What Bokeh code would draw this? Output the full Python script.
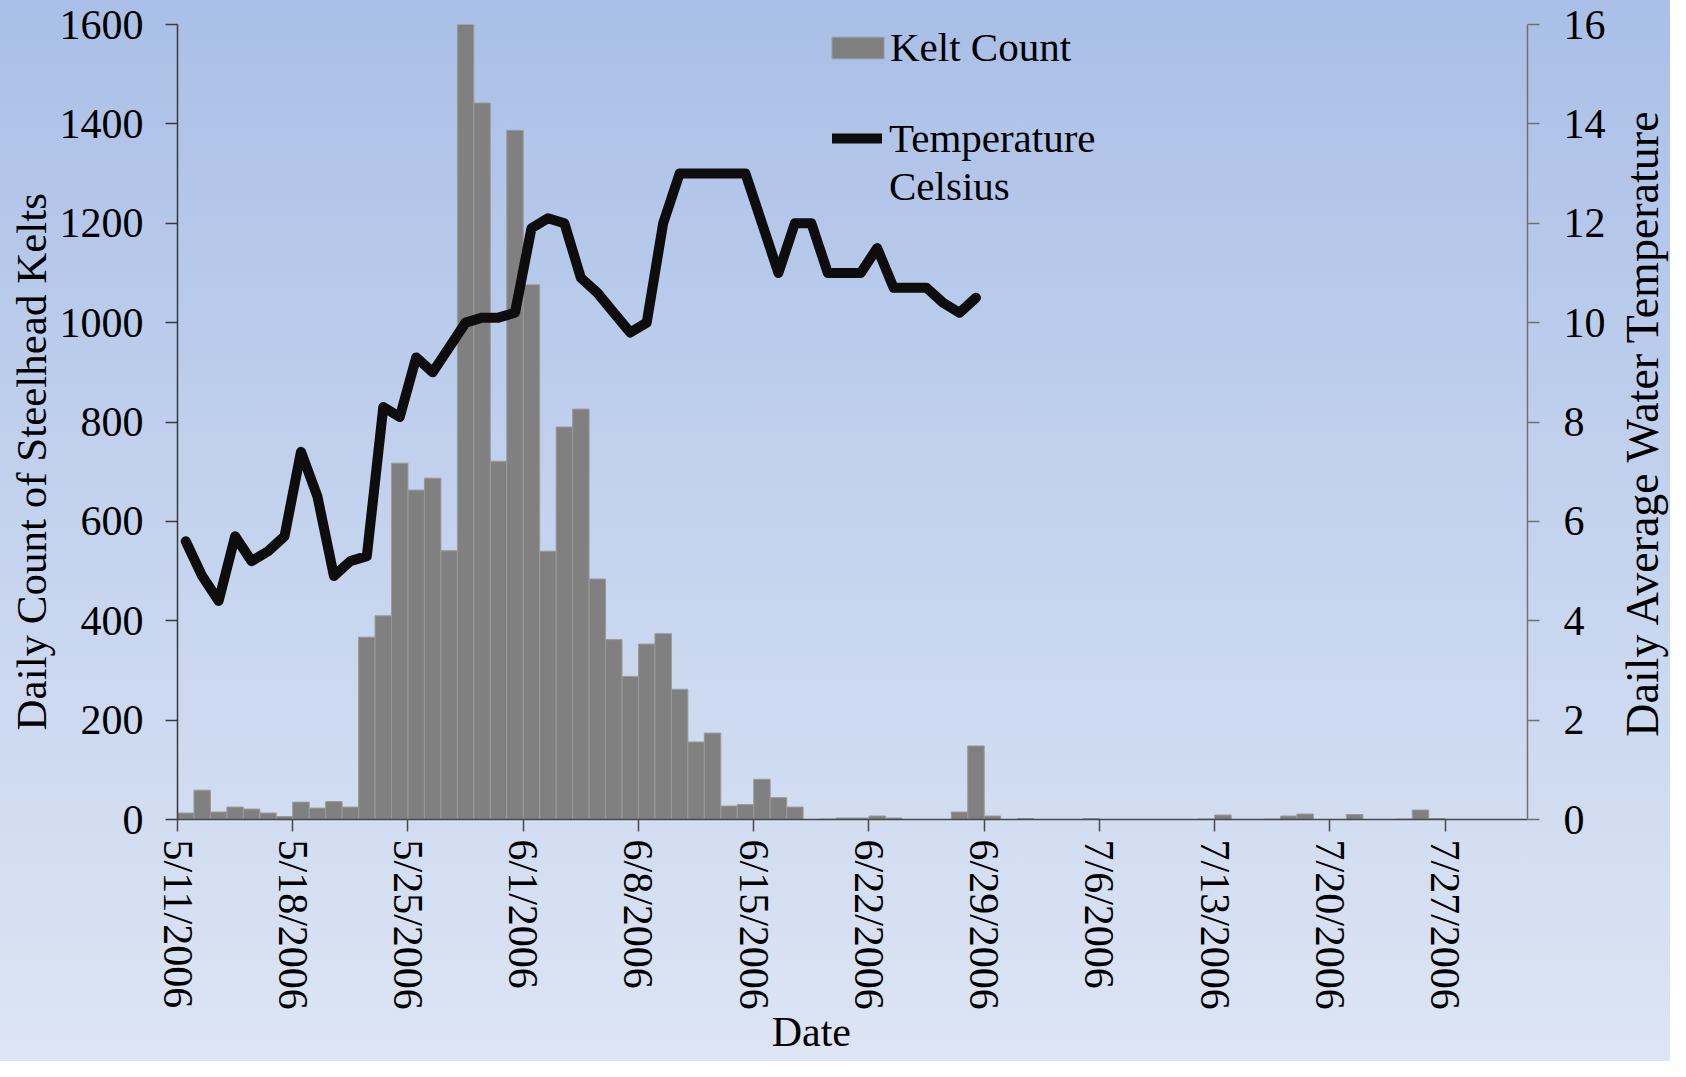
import math
import pandas as pd
from bokeh.plotting import figure
from bokeh.models import (Range1d, LinearAxis, FixedTicker, Legend, LegendItem,
                          ColumnDataSource, Label)
from bokeh.embed import file_html
from bokeh.resources import INLINE

# ---------------- data ----------------
start_date = "5/11/2006"
end_date = "8/1/2006"

# daily kelt counts, 5/11/2006 .. 7/31/2006
kelt_count = [
    13, 59, 15, 25, 21, 13, 6, 35, 23, 36,
    25, 367, 410, 717, 663, 687, 541, 1600, 1442, 721,
    1387, 1076, 540, 790, 826, 484, 362, 288, 353, 374,
    262, 156, 174, 27, 30, 81, 44, 25, 0, 1,
    3, 3, 7, 3, 0, 0, 0, 15, 148, 7,
    0, 2, 0, 0, 0, 2, 0, 0, 0, 0,
    0, 0, 1, 9, 0, 0, 1, 7, 11, 0,
    0, 10, 0, 0, 1, 19, 2, 0, 0, 0,
    0, 0,
]

# daily average water temperature (Celsius), 5/11/2006 .. 6/28/2006
temperature_c = [
    5.6, 4.9, 4.4, 5.7, 5.2, 5.4, 5.7, 7.4, 6.5, 4.9,
    5.2, 5.3, 8.3, 8.1, 9.3, 9.0, 9.5, 10.0, 10.1, 10.1,
    10.2, 11.9, 12.1, 12.0, 10.9, 10.6, 10.2, 9.8, 10.0, 12.0,
    13.0, 13.0, 13.0, 13.0, 13.0, 12.0, 11.0, 12.0, 12.0, 11.0,
    11.0, 11.0, 11.5, 10.7, 10.7, 10.7, 10.4, 10.2, 10.5,
]

date_tick_labels = [
    "5/11/2006", "5/18/2006", "5/25/2006", "6/1/2006", "6/8/2006", "6/15/2006",
    "6/22/2006", "6/29/2006", "7/6/2006", "7/13/2006", "7/20/2006", "7/27/2006",
]
count_ticks = [0, 200, 400, 600, 800, 1000, 1200, 1400, 1600]
temp_ticks = [0, 2, 4, 6, 8, 10, 12, 14, 16]

# ---------------- derived positions (days since start) ----------------
t0 = pd.Timestamp(start_date)
axis_days = (pd.Timestamp(end_date) - t0).days
kelt_dates = pd.date_range(t0, periods=len(kelt_count), freq="D")
temp_dates = kelt_dates[: len(temperature_c)]
kelt_x = [(d - t0).days + 0.5 for d in kelt_dates]
temp_x = [(d - t0).days + 0.5 for d in temp_dates]
tick_pos = [(pd.Timestamp(s) - t0).days for s in date_tick_labels]

FONT = "Liberation Serif"
FS = "42px"

p = figure(
    width=1670, height=1061,
    x_range=Range1d(0, axis_days), y_range=Range1d(0, 1600),
    output_backend="svg", toolbar_location=None,
    min_border_left=177, min_border_right=143, min_border_top=24, min_border_bottom=242,
)
p.extra_y_ranges = {"temp": Range1d(0, 16)}
p.background_fill_alpha = 0
p.border_fill_alpha = 0
p.outline_line_color = None
p.grid.visible = False
p.styles = {"background": "linear-gradient(to bottom, #aabfe7 0%, #c4d3ee 50%, #dde5f4 100%)"}

bar_src = ColumnDataSource(dict(x=kelt_x, top=kelt_count))
bars = p.vbar(x="x", top="top", width=1.0, bottom=0, source=bar_src,
              fill_color="#808080", line_color="#9a9a9a", line_width=1)

line_src = ColumnDataSource(dict(x=temp_x, y=temperature_c))
temp_line = p.line(x="x", y="y", source=line_src, y_range_name="temp",
                   line_color="#0d0d0d", line_width=10, line_join="round", line_cap="round")

# invisible helper so the second line of the legend label can sit under "Temperature"
legend_spacer = p.line(x=[], y=[], line_alpha=0, y_range_name="temp")

# x axis
xa = p.xaxis[0]
xa.ticker = FixedTicker(ticks=tick_pos)
xa.major_label_overrides = {pos: lbl for pos, lbl in zip(tick_pos, date_tick_labels)}
xa.major_label_orientation = -math.pi / 2
xa.major_label_standoff = 8

# left axis
ya = p.yaxis[0]
ya.ticker = FixedTicker(ticks=count_ticks)
ya.major_label_standoff = 22

# right axis
ra = LinearAxis(y_range_name="temp", ticker=FixedTicker(ticks=temp_ticks))
ra.major_label_standoff = 24
p.add_layout(ra, "right")

for ax, col in ((xa, "#4a4a4a"), (ya, "#3a3a3a"), (ra, "#707070")):
    ax.axis_line_color = col
    ax.axis_line_width = 1.5
    ax.major_tick_line_color = col
    ax.major_tick_line_width = 1.5
    ax.major_tick_out = 12
    ax.major_tick_in = 0
    ax.minor_tick_line_color = None
    ax.major_label_text_font = FONT
    ax.major_label_text_font_size = FS
    ax.major_label_text_color = "#000000"

# axis titles, placed in the side panels (not clipped to the plot frame)
title_style = dict(text_align="center", text_baseline="middle",
                   text_font=FONT, text_color="#000000")
left_title = Label(x=-8.87, y=720, text="Daily Count of Steelhead Kelts",
                   angle=math.pi / 2, text_font_size="43px", **title_style)
right_title = Label(x=axis_days + 7.0, y=800, text="Daily Average Water Temperature",
                    angle=math.pi / 2, text_font_size="46px", **title_style)
bottom_title = Label(x=38.5, y=-428, text="Date", text_font_size="42px", **title_style)
p.add_layout(left_title, "left")
p.add_layout(right_title, "right")
p.add_layout(bottom_title, "below")

legend_style = dict(
    background_fill_alpha=0, border_line_alpha=0, padding=0, margin=0, spacing=0,
    label_text_font=FONT, label_text_font_size="41px", label_text_color="#000000",
    label_text_line_height=1.17,
)
legend_a = Legend(items=[LegendItem(label="Kelt Count", renderers=[bars])],
                  location=(648, 748), glyph_width=65, glyph_height=27, label_standoff=0,
                  **legend_style)
legend_b = Legend(items=[LegendItem(label="Temperature", renderers=[temp_line]),
                         LegendItem(label="Celsius", renderers=[legend_spacer])],
                  location=(655, 609), glyph_width=50, glyph_height=22, label_standoff=7,
                  **legend_style)
p.add_layout(legend_a)
p.add_layout(legend_b)

open("out.html", "w").write(file_html(p, INLINE))
